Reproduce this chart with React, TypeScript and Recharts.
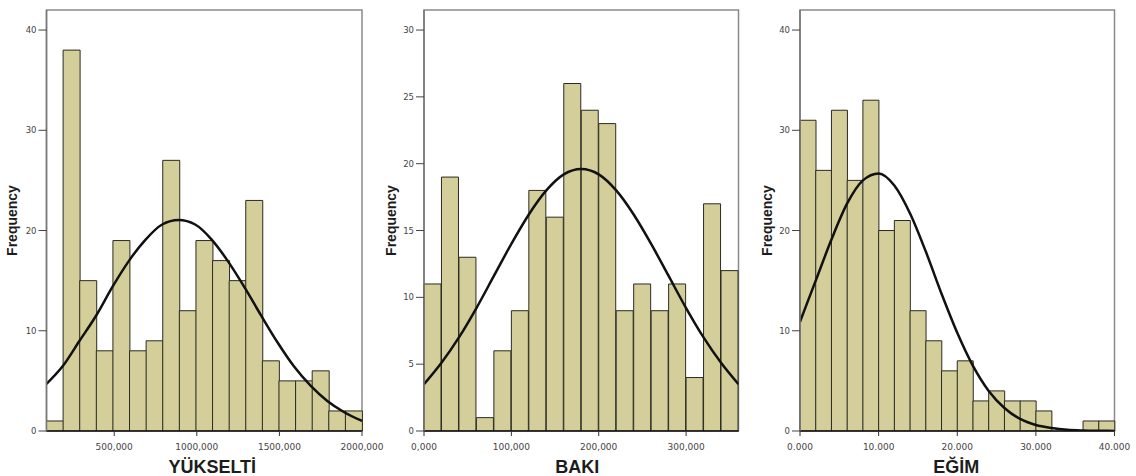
import { ComposedChart, Bar, Line, XAxis, YAxis, ReferenceArea, Label } from "recharts";

// YÜKSELTİ: bin lower edges, bin counts, fitted normal curve
const elevBins = [90, 190.5, 291, 391.5, 492, 592.5, 693, 793.5, 894, 994.5, 1095, 1195.5, 1296, 1396.5, 1497, 1597.5, 1698, 1798.5, 1899];
const elevCounts = [1, 38, 15, 8, 19, 8, 9, 27, 12, 19, 17, 15, 23, 7, 5, 5, 6, 2, 2];
const elevCurveX = [90, 190, 290, 390, 490, 590, 690, 790, 890, 990, 1090, 1190, 1290, 1390, 1490, 1590, 1690, 1790, 1890, 2000];
const elevCurveY = [4.7, 6.5, 9.0, 11.5, 14.4, 17.0, 19.1, 20.6, 21.05, 20.6, 19.1, 16.9, 14.3, 11.5, 8.8, 6.4, 4.5, 3.0, 1.9, 1.0];
const elevTicks = [500, 1000, 1500, 2000];

// BAKI
const aspectBins = [0, 20, 40, 60, 80, 100, 120, 140, 160, 180, 200, 220, 240, 260, 280, 300, 320, 340];
const aspectCounts = [11, 19, 13, 1, 6, 9, 18, 16, 26, 24, 23, 9, 11, 9, 11, 4, 17, 12];
const aspectCurveX = [0, 20, 40, 60, 80, 100, 120, 140, 160, 180, 200, 220, 240, 260, 280, 300, 320, 340, 360];
const aspectCurveY = [3.5, 5.1, 7.0, 9.2, 11.6, 14.0, 16.2, 18.0, 19.2, 19.6, 19.2, 18.0, 16.2, 14.0, 11.6, 9.2, 7.0, 5.1, 3.5];
const aspectTicks = [0, 100, 200, 300];

// EĞİM
const slopeBins = [0, 2, 4, 6, 8, 10, 12, 14, 16, 18, 20, 22, 24, 26, 28, 30, 32, 34, 36, 38];
const slopeCounts = [31, 26, 32, 25, 33, 20, 21, 12, 9, 6, 7, 3, 4, 3, 3, 2, 0, 0, 1, 1];
const slopeCurveX = [0, 2, 4, 6, 8, 10, 12, 14, 16, 18, 20, 22, 24, 26, 28, 30, 32, 34, 36, 38, 40];
const slopeCurveY = [10.9, 15.0, 19.1, 22.7, 25.0, 25.7, 24.5, 21.7, 17.9, 13.7, 9.8, 6.5, 4.0, 2.3, 1.2, 0.6, 0.3, 0.12, 0.05, 0.02, 0.01];
const slopeTicks = [0, 10, 20, 30, 40];

const commaFmt = (v: number) => v.toFixed(3).replace(".", ",");
const dotFmt = (v: number) => v.toFixed(3);

type HistProps = {
  left: number;
  width: number;
  marginRight: number;
  yAxisWidth: number;
  title: string;
  titleDx: number;
  freqOffset: number;
  bins: number[];
  counts: number[];
  curveX: number[];
  curveY: number[];
  xDomain: [number, number];
  xTicks: number[];
  yMax: number;
  yTicks: number[];
  fmt: (v: number) => string;
};

function Histogram(p: HistProps) {
  const bars = p.bins.map((b, i) => ({ bin: b, count: p.counts[i] }));
  const curve = p.curveX.map((x, i) => ({ x, y: p.curveY[i] }));
  return (
    <div style={{ position: "absolute", left: p.left, top: 0, width: p.width, height: 476 }}>
      <ComposedChart
        width={p.width}
        height={476}
        data={bars}
        margin={{ top: 10, right: p.marginRight, left: 0, bottom: 0 }}
        barCategoryGap={0}
        barGap={0}
      >
        <XAxis
          xAxisId="val"
          type="number"
          dataKey="x"
          domain={p.xDomain}
          ticks={p.xTicks}
          interval={0}
          allowDataOverflow
          height={45}
          tickSize={5}
          tickMargin={8}
          tickFormatter={p.fmt}
          axisLine={{ stroke: "#111", strokeWidth: 1.5 }}
          tickLine={{ stroke: "#333" }}
          tick={{ fontSize: 9, fill: "#444", fontFamily: "DejaVu Sans" }}
        >
          <Label
            value={p.title}
            position="insideBottom"
            offset={3}
            dx={p.titleDx}
            style={{ fontSize: 18, fontWeight: 700, fill: "#1c1c1c", fontFamily: "Liberation Sans" }}
          />
        </XAxis>
        {/* category axis that lays the bins out edge to edge */}
        <XAxis xAxisId="bins" dataKey="bin" hide height={0} />
        <YAxis
          domain={[0, p.yMax]}
          ticks={p.yTicks}
          allowDataOverflow
          width={p.yAxisWidth}
          tickSize={8}
          tickMargin={2}
          axisLine={{ stroke: "#777", strokeWidth: 1.5 }}
          tickLine={{ stroke: "#444" }}
          tick={{ fontSize: 8.5, fill: "#444", fontFamily: "DejaVu Sans" }}
        >
          <Label
            value="Frequency"
            angle={-90}
            position="insideLeft"
            offset={p.freqOffset}
            style={{ textAnchor: "middle", fontSize: 14, fontWeight: 700, fill: "#1c1c1c", fontFamily: "Liberation Sans" }}
          />
        </YAxis>
        <ReferenceArea
          xAxisId="val"
          x1={p.xDomain[0]}
          x2={p.xDomain[1]}
          y1={0}
          y2={p.yMax}
          fill="none"
          stroke="#8a8a8a"
          strokeWidth={1.5}
        />
        <Bar xAxisId="bins" dataKey="count" fill="#D3CE9A" stroke="#2b2b22" strokeWidth={1} isAnimationActive={false} />
        <Line
          xAxisId="val"
          data={curve}
          dataKey="y"
          type="monotone"
          stroke="#111"
          strokeWidth={2.5}
          dot={false}
          isAnimationActive={false}
        />
      </ComposedChart>
    </div>
  );
}

export default function App() {
  return (
    <div style={{ position: "absolute", left: 0, top: 0, width: 1136, height: 476, background: "#fff", fontFamily: "Liberation Sans" }}>
      <Histogram
        left={0}
        width={386}
        marginRight={24}
        yAxisWidth={46.5}
        title="YÜKSELTİ"
        titleDx={8}
        freqOffset={12.5}
        bins={elevBins}
        counts={elevCounts}
        curveX={elevCurveX}
        curveY={elevCurveY}
        xDomain={[90, 2000]}
        xTicks={elevTicks}
        yMax={42}
        yTicks={[0, 10, 20, 30, 40]}
        fmt={commaFmt}
      />
      <Histogram
        left={380}
        width={378}
        marginRight={19.5}
        yAxisWidth={44}
        title="BAKI"
        titleDx={-4}
        freqOffset={11}
        bins={aspectBins}
        counts={aspectCounts}
        curveX={aspectCurveX}
        curveY={aspectCurveY}
        xDomain={[0, 360]}
        xTicks={aspectTicks}
        yMax={31.5}
        yTicks={[0, 5, 10, 15, 20, 25, 30]}
        fmt={commaFmt}
      />
      <Histogram
        left={756}
        width={380}
        marginRight={21.5}
        yAxisWidth={44}
        title="EĞİM"
        titleDx={-1}
        freqOffset={11}
        bins={slopeBins}
        counts={slopeCounts}
        curveX={slopeCurveX}
        curveY={slopeCurveY}
        xDomain={[0, 40]}
        xTicks={slopeTicks}
        yMax={42}
        yTicks={[0, 10, 20, 30, 40]}
        fmt={dotFmt}
      />
    </div>
  );
}
